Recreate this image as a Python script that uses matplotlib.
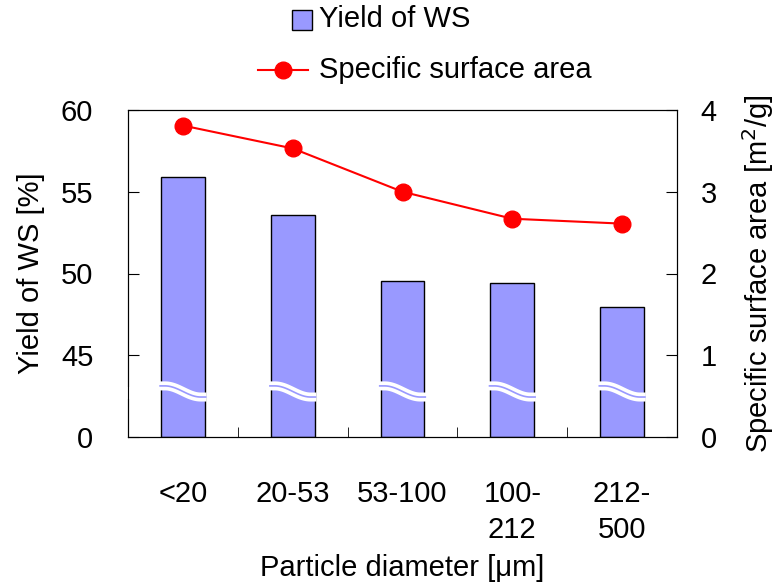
import numpy as np
import matplotlib
matplotlib.use("Agg")
import matplotlib.pyplot as plt
from matplotlib.patches import Rectangle
from matplotlib.lines import Line2D

plt.rcParams['font.family'] = ['Liberation Sans', 'DejaVu Sans']

categories = ["<20", "20-53", "53-100", "100-\n212", "212-\n500"]
yield_ws = [55.9, 53.6, 49.55, 49.4, 47.95]          # %
surface_area = [3.81, 3.53, 3.0, 2.67, 2.61]          # m2/g
left_ticks = [0, 45, 50, 55, 60]
right_ticks = [0, 1, 2, 3, 4]

BAR = "#9999FF"
FS = 21


def broken(v):
    # broken left axis: 0 -> 0, 45..60 -> 1..4
    return 0.0 if v == 0 else 1 + (v - 45) / 5.0


fig = plt.figure(figsize=(7.8, 5.86), dpi=100)
ax = fig.add_axes([128 / 780, 1 - 437 / 586, 549 / 780, 327 / 586])
x = np.arange(len(categories)) + 0.5
heights = [broken(v) for v in yield_ws]
ax.bar(x, heights, width=0.4, color=BAR, edgecolor="black", linewidth=1.0, zorder=2)

ax.set_xlim(0, len(categories))
ax.set_ylim(0, 4)
ax.set_yticks([broken(v) for v in left_ticks])
ax.set_yticklabels([str(v) for v in left_ticks], fontsize=FS)
ax.tick_params(axis='y', direction='in', length=8, pad=25)
ax.set_xticks(x)
ax.set_xticklabels(categories, fontsize=FS, va='top', linespacing=1.37)
ax.tick_params(axis='x', length=0, pad=31)
ax.set_xticks(np.arange(1, len(categories)), minor=True)
ax.tick_params(axis='x', which='minor', direction='in', length=7)
ax.set_ylabel("Yield of WS [%]", fontsize=FS, labelpad=11)
ax.set_xlabel("Particle diameter [μm]", fontsize=FS, labelpad=7)

ax2 = ax.twinx()
ax2.set_ylim(0, 4)
ax2.set_yticks(right_ticks)
ax2.set_yticklabels([str(v) for v in right_ticks], fontsize=FS)
ax2.tick_params(axis='y', direction='in', length=8, pad=17)
ax2.plot(x, surface_area, color="red", lw=1.5, marker="o", markersize=12,
         markerfacecolor="red", markeredgecolor="red", zorder=3)
ax2.set_ylabel("Specific surface area [m$^{2}$/g]", fontsize=FS, labelpad=17)

# break marks
t = np.linspace(0, 1, 80)
s = np.clip((t - 0.12) / 0.76, 0, 1)
for xc in x:
    xs = xc - 0.215 + 0.43 * t
    ys = 0.557 + 0.068 * np.cos(np.pi * s)
    ax.plot(xs, ys, color="white", lw=6.5, solid_capstyle='butt', zorder=4)
    ax.plot(xs, ys, color=BAR, lw=1.2, solid_capstyle='butt', zorder=5)
ax.plot([0, 0], [0.46, 0.61], color="white", lw=3, solid_capstyle='butt',
        zorder=6, clip_on=False)

# legend (manual, Excel style)
fig.add_artist(Rectangle((292 / 780, 1 - 30 / 586), 20 / 780, 20 / 586,
                         transform=fig.transFigure, facecolor=BAR,
                         edgecolor="black", linewidth=1.0))
fig.text(319 / 780, 1 - 19 / 586, "Yield of WS", fontsize=FS, va='center', ha='left')
fig.add_artist(Line2D([258 / 780, 308 / 780], [1 - 70 / 586, 1 - 70 / 586],
                      transform=fig.transFigure, color="red", lw=1.5,
                      marker=None))
fig.add_artist(Line2D([283 / 780], [1 - 70 / 586], transform=fig.transFigure,
                      color="red", marker="o", markersize=12, lw=0))
fig.text(319 / 780, 1 - 70 / 586, "Specific surface area", fontsize=FS, va='center', ha='left')

fig.savefig("out.png", dpi=100)
